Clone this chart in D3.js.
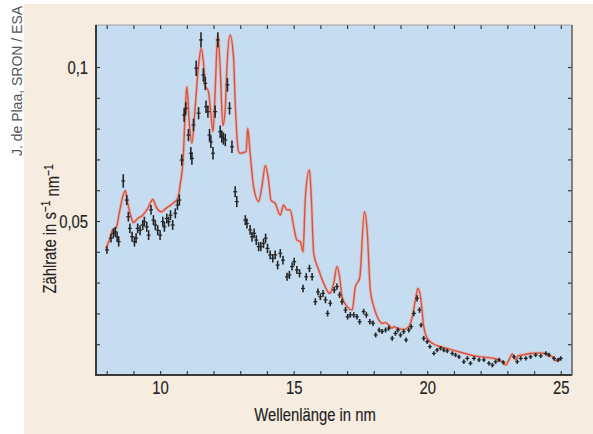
<!DOCTYPE html>
<html><head><meta charset="utf-8">
<script src="https://cdn.jsdelivr.net/npm/d3@7/dist/d3.min.js"></script>
<style>
html,body{margin:0;padding:0;background:#fff;}
svg{display:block;}
</style></head>
<body>
<svg id="chart" width="593" height="434"></svg>
<script>
// ---- data ----
const xTicks = [8,9,10,11,12,13,14,15,16,17,18,19,20,21,22,23,24,25];
const xTickLabels = {10:"10",15:"15",20:"20",25:"25"};
const yTicks = [0.01,0.02,0.03,0.04,0.05,0.06,0.07,0.08,0.09,0.10];
const yTickLabels = {"0.05":"0,05","0.1":"0,1"};

const modelX = [7.97,8.1,8.22,8.35,8.47,8.6,8.7,8.79,8.91,9.0,9.16,9.35,9.54,9.73,9.85,10.04,10.22,10.47,10.66,10.75,10.87,10.94,11.0,11.1,11.19,11.31,11.44,11.54,11.62,11.69,11.81,11.87,11.98,12.06,12.16,12.25,12.35,12.44,12.5,12.62,12.75,12.81,12.94,13.0,13.22,13.28,13.37,13.5,13.69,13.81,13.94,14.06,14.15,14.31,14.5,14.62,14.75,14.87,15.0,15.12,15.25,15.35,15.44,15.59,15.66,15.75,15.94,16.12,16.35,16.5,16.62,16.72,16.81,17.0,17.19,17.31,17.47,17.65,17.75,17.87,18.0,18.19,18.31,18.44,18.56,18.69,18.75,18.87,19.12,19.31,19.44,19.56,19.65,19.75,19.87,20.0,20.19,20.5,20.87,21.25,21.62,22.0,22.5,22.81,22.94,23.06,23.19,23.31,23.4,23.56,23.87,24.25,24.5,24.69,24.81,25.0];
const modelY = [0.0411,0.0438,0.0471,0.0476,0.0525,0.0579,0.0598,0.0557,0.0514,0.0495,0.0508,0.0519,0.0541,0.057,0.0546,0.053,0.0541,0.0557,0.0574,0.0617,0.0714,0.0854,0.0936,0.081,0.0753,0.0867,0.1006,0.106,0.1017,0.094,0.092,0.0877,0.079,0.092,0.1104,0.0997,0.081,0.0867,0.0996,0.1104,0.103,0.0887,0.0725,0.072,0.0725,0.0801,0.072,0.0611,0.0563,0.0611,0.068,0.0633,0.0568,0.0557,0.0519,0.0552,0.0536,0.0536,0.0482,0.0438,0.0433,0.04,0.0579,0.0666,0.0579,0.0395,0.0341,0.0298,0.0265,0.0298,0.0352,0.0319,0.0254,0.0222,0.0211,0.0287,0.0314,0.053,0.0471,0.0276,0.0222,0.0179,0.0168,0.017,0.0162,0.0152,0.0157,0.0152,0.0148,0.0157,0.0189,0.0244,0.0281,0.0254,0.0157,0.0119,0.0103,0.0092,0.0083,0.0074,0.0065,0.0059,0.0054,0.0043,0.0032,0.0049,0.0068,0.0049,0.0062,0.0065,0.007,0.0072,0.0065,0.0059,0.0046,0.0051];

const dataX = [8.01,8.16,8.25,8.32,8.39,8.45,8.62,8.75,8.81,8.87,8.95,9.04,9.1,9.16,9.25,9.35,9.41,9.5,9.57,9.66,9.75,9.82,9.91,10.0,10.1,10.16,10.25,10.32,10.39,10.47,10.57,10.65,10.72,10.81,10.9,10.96,11.06,11.15,11.19,11.25,11.35,11.44,11.53,11.62,11.69,11.72,11.79,11.85,11.9,11.98,12.06,12.16,12.25,12.31,12.37,12.44,12.52,12.6,12.69,12.81,12.87,13.19,13.25,13.37,13.44,13.52,13.6,13.69,13.77,13.87,13.95,14.02,14.12,14.22,14.31,14.4,14.5,14.6,14.75,14.84,14.94,15.02,15.12,15.22,15.35,15.47,15.59,15.69,15.81,15.91,16.0,16.1,16.19,16.27,16.37,16.52,16.62,16.72,16.81,16.94,17.02,17.12,17.25,17.37,17.47,17.62,17.72,17.85,17.97,18.07,18.2,18.31,18.44,18.56,18.69,18.81,18.9,19.0,19.12,19.21,19.31,19.4,19.5,19.62,19.71,19.77,19.87,20.0,20.1,20.25,20.37,20.5,20.62,20.75,20.94,21.06,21.19,21.37,21.5,21.62,21.75,21.94,22.12,22.31,22.44,22.56,22.69,22.85,23.25,23.37,23.5,23.69,23.87,24.06,24.25,24.44,24.56,24.75,24.9,25.0];
const dataY = [0.0406,0.0444,0.046,0.0465,0.0449,0.0433,0.063,0.0568,0.0514,0.0476,0.0449,0.0433,0.0444,0.0476,0.047,0.0487,0.0498,0.0481,0.0454,0.0536,0.0503,0.0487,0.047,0.0454,0.0498,0.0481,0.0508,0.0498,0.0519,0.0487,0.0525,0.0552,0.0568,0.0698,0.0844,0.0866,0.0779,0.072,0.0703,0.0812,0.0996,0.085,0.1088,0.0974,0.0947,0.0871,0.0855,0.0779,0.0757,0.072,0.0855,0.1088,0.079,0.0774,0.0768,0.0763,0.0942,0.0866,0.0741,0.0595,0.0563,0.0503,0.0492,0.0471,0.0449,0.046,0.0438,0.0417,0.0417,0.0427,0.0444,0.0411,0.039,0.0379,0.039,0.0357,0.0395,0.0373,0.0319,0.0325,0.0352,0.0368,0.0341,0.033,0.0281,0.0319,0.0346,0.0319,0.0238,0.027,0.0254,0.0265,0.0244,0.02,0.0233,0.0276,0.0287,0.026,0.0238,0.0211,0.0189,0.0195,0.0195,0.0189,0.0173,0.0206,0.0195,0.0173,0.0168,0.013,0.0146,0.0141,0.0146,0.0152,0.0119,0.0135,0.0146,0.013,0.0141,0.0114,0.0146,0.0157,0.02,0.0249,0.0211,0.0162,0.0119,0.0108,0.0092,0.007,0.0081,0.0087,0.0081,0.0078,0.007,0.0065,0.0059,0.0043,0.0054,0.0038,0.0054,0.0049,0.0049,0.0038,0.0032,0.0043,0.0049,0.0041,0.0059,0.0043,0.0054,0.0054,0.0059,0.0065,0.0062,0.007,0.0065,0.0054,0.0049,0.0054];
const dataErr = [0.0012,0.0014,0.0016,0.0016,0.0016,0.0016,0.0022,0.0016,0.0016,0.0016,0.0016,0.0016,0.0016,0.0016,0.0016,0.0016,0.0016,0.0016,0.0016,0.0016,0.0016,0.0016,0.0016,0.0016,0.0016,0.0016,0.0016,0.0016,0.0016,0.0016,0.0016,0.0016,0.0018,0.0018,0.0022,0.002,0.002,0.002,0.002,0.002,0.0025,0.002,0.0025,0.0022,0.0022,0.002,0.002,0.002,0.002,0.002,0.002,0.0025,0.002,0.002,0.002,0.002,0.0022,0.002,0.002,0.0018,0.0018,0.0016,0.0016,0.0016,0.0016,0.0016,0.0016,0.0015,0.0015,0.0015,0.0015,0.0015,0.0014,0.0014,0.0014,0.0014,0.0014,0.0014,0.0013,0.0013,0.0013,0.0013,0.0013,0.0013,0.0012,0.0012,0.0012,0.0012,0.0011,0.0011,0.0011,0.0011,0.0011,0.001,0.001,0.001,0.001,0.001,0.001,0.001,0.0009,0.0009,0.0009,0.0009,0.0009,0.0009,0.0009,0.0009,0.0009,0.0008,0.0008,0.0008,0.0008,0.0008,0.0008,0.0008,0.0008,0.0008,0.0008,0.0008,0.0008,0.0008,0.0009,0.001,0.0009,0.0008,0.0008,0.0007,0.0007,0.0007,0.0007,0.0007,0.0007,0.0007,0.0007,0.0007,0.0007,0.0007,0.0007,0.0007,0.0007,0.0007,0.0007,0.0007,0.0007,0.0007,0.0007,0.0007,0.0007,0.0007,0.0007,0.0007,0.0007,0.0007,0.0007,0.0007,0.0007,0.0007,0.0007,0.0007,0.0038];

// ---- layout ----
const svg = d3.select("#chart");
const W = 593, H = 434;
const P = {l:96, t:25, r:572, b:375};
const FONT = "'Liberation Sans',Arial,sans-serif";
const CONDENSE = 0.78;
const FS = 19;
const TSTROKE = 0.15;

svg.append("rect").attr("x",0).attr("y",0).attr("width",W).attr("height",H).attr("fill","#ffffff");
svg.append("rect").attr("x",24).attr("y",4).attr("width",W-24).attr("height",H-4).attr("fill","#f6ece0");
svg.append("rect").attr("x",P.l).attr("y",P.t).attr("width",P.r-P.l).attr("height",P.b-P.t).attr("fill","#c6ddf1");

const x = d3.scaleLinear().domain([7.6, 25.42]).range([P.l, P.r]);
const y = d3.scaleLinear().domain([0, 0.11364]).range([P.b, P.t]);

// model line
const line = d3.line().x((d,i)=>x(modelX[i])).y((d,i)=>y(modelY[i])).curve(d3.curveMonotoneX);
svg.append("path").datum(modelX).attr("d",line).attr("fill","none")
  .attr("stroke","#eba497").attr("stroke-width",3.2).attr("stroke-linejoin","round").attr("opacity",0.6);
svg.append("path").datum(modelX).attr("d",line).attr("fill","none")
  .attr("stroke","#d65440").attr("stroke-width",1.4).attr("stroke-linejoin","round");

// data points with error bars
const pts = svg.append("g").attr("stroke","#262626");
dataX.forEach((xv,i)=>{
  const g = pts.append("g");
  g.append("line").attr("x1",x(xv)).attr("x2",x(xv))
    .attr("y1",y(dataY[i]-dataErr[i])).attr("y2",y(dataY[i]+dataErr[i]))
    .attr("stroke-width",1.6);
  g.append("line").attr("x1",x(xv-0.075)).attr("x2",x(xv+0.075))
    .attr("y1",y(dataY[i])).attr("y2",y(dataY[i]))
    .attr("stroke-width",1.2);
});

function condense(sel){
  sel.each(function(){
    const L = this.getComputedTextLength();
    if (L > 0) { this.setAttribute("textLength", L*CONDENSE); this.setAttribute("lengthAdjust","spacingAndGlyphs"); }
  });
}

// axes
function styleAxis(g){
  g.select(".domain").remove();
  g.selectAll(".tick line").attr("stroke","#3a3a3a").attr("stroke-width",1.2);
  g.selectAll(".tick text").attr("fill","#222").attr("stroke","#222").attr("stroke-width",TSTROKE)
    .style("font-family",FONT).style("font-size",FS+"px").call(condense);
}
svg.append("g").attr("transform",`translate(0,${P.b})`)
  .call(d3.axisBottom(x).tickValues(xTicks).tickSize(-4).tickPadding(6)
    .tickFormat(d=>xTickLabels[d]||""))
  .call(styleAxis);
svg.append("g").attr("transform",`translate(0,${P.t})`)
  .call(d3.axisTop(x).tickValues(xTicks).tickSize(-4).tickFormat(""))
  .call(styleAxis);
svg.append("g").attr("transform",`translate(${P.l},0)`)
  .call(d3.axisLeft(y).tickValues(yTicks).tickSize(-4).tickPadding(8)
    .tickFormat(d=>yTickLabels[String(+d.toFixed(2))]||""))
  .call(styleAxis);
svg.append("g").attr("transform",`translate(${P.r},0)`)
  .call(d3.axisRight(y).tickValues(yTicks).tickSize(-4).tickFormat(""))
  .call(styleAxis);

// frame
svg.append("rect").attr("x",P.l).attr("y",P.t).attr("width",P.r-P.l).attr("height",P.b-P.t)
  .attr("fill","none").attr("stroke","#8a8f96").attr("stroke-width",0.8);
svg.append("path").attr("d",`M${P.l},${P.t}V${P.b}H${P.r}`).attr("fill","none")
  .attr("stroke","#3a3a3a").attr("stroke-width",2);
svg.append("line").attr("x1",P.r).attr("x2",P.r).attr("y1",P.t).attr("y2",P.b)
  .attr("stroke","#555").attr("stroke-width",1.2);

// axis titles
svg.append("text").attr("transform",`translate(315,421) scale(${CONDENSE},1)`).attr("text-anchor","middle")
  .style("font-family",FONT).style("font-size",FS+"px").attr("fill","#222")
  .attr("stroke","#222").attr("stroke-width",TSTROKE)
  .text("Wellenlänge in nm");

const yl = svg.append("text").attr("transform",`translate(56,229) rotate(-90) scale(${CONDENSE},1)`)
  .attr("text-anchor","middle").style("font-family",FONT).style("font-size",FS+"px").attr("fill","#222")
  .attr("stroke","#222").attr("stroke-width",TSTROKE);
yl.append("tspan").text("Zählrate in s");
yl.append("tspan").attr("dy","-0.45em").style("font-size","13px").text("\u22121");
yl.append("tspan").attr("dy","0.45em").text(" nm");
yl.append("tspan").attr("dy","-0.45em").style("font-size","13px").text("\u22121");

svg.append("text").attr("transform","translate(22,81) rotate(-90)")
  .attr("text-anchor","middle").style("font-family",FONT)
  .style("font-size","14px").attr("fill","#555")
  .text("J. de Plaa, SRON / ESA");
</script>
</body></html>
